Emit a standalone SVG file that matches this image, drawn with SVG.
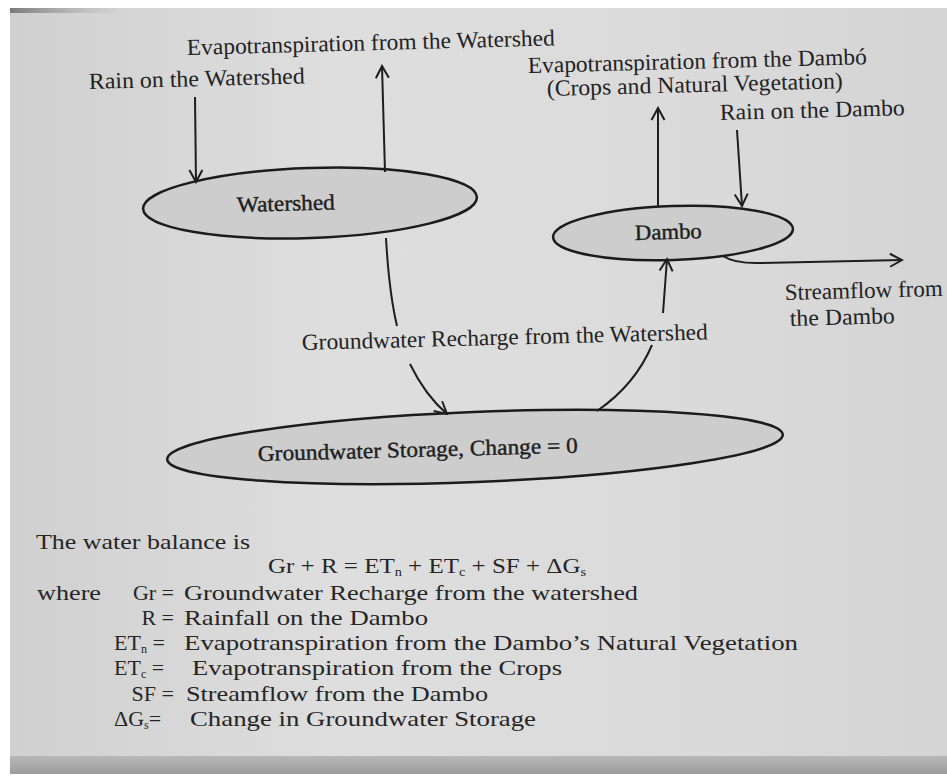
<svg xmlns="http://www.w3.org/2000/svg" width="947" height="782" viewBox="0 0 947 782">
<defs>
  <linearGradient id="paper" x1="0" y1="0" x2="1" y2="0">
    <stop offset="0" stop-color="#d0d0d0"/>
    <stop offset="0.35" stop-color="#dedede"/>
    <stop offset="0.75" stop-color="#dadada"/>
    <stop offset="1" stop-color="#d4d4d4"/>
  </linearGradient>
  <linearGradient id="band" x1="0" y1="0" x2="0" y2="1">
    <stop offset="0" stop-color="#b8b8b8"/>
    <stop offset="1" stop-color="#9c9c9c"/>
  </linearGradient>
  <linearGradient id="streak" x1="0" y1="0" x2="1" y2="0">
    <stop offset="0" stop-color="#7a7a7a"/>
    <stop offset="1" stop-color="#b0b0b0" stop-opacity="0"/>
  </linearGradient>
  <marker id="ah" viewBox="0 0 16 16" markerWidth="16" markerHeight="16" refX="14" refY="8" orient="auto" markerUnits="userSpaceOnUse">
    <path d="M2,1.5 L14,8 L2,14.5" fill="none" stroke="#1e1e1e" stroke-width="2"/>
  </marker>
</defs>
<style>
  .lbl{font-family:"Liberation Serif","Times New Roman",serif;font-size:23px;fill:#232323}
  .nlab{font-family:"Liberation Serif","Times New Roman",serif;font-size:22px;fill:#1e1e1e;stroke:#1e1e1e;stroke-width:0.4}
  .eq{font-family:"Liberation Serif","Times New Roman",serif;font-size:21px;fill:#262626}
  .key{font-family:"Liberation Serif","Times New Roman",serif;font-size:22px;fill:#262626}
  .sub{font-size:12px}
  .node{fill:#cdcdcd;stroke:#1c1c1c;stroke-width:2.5}
  .conn{fill:none;stroke:#1e1e1e;stroke-width:2}
</style>
<rect x="0" y="0" width="947" height="782" fill="#ffffff"/>
<rect x="10" y="8" width="937" height="760" fill="url(#paper)"/>
<rect x="10" y="756" width="937" height="18" fill="url(#band)"/>
<rect x="10" y="8" width="115" height="5" fill="url(#streak)"/>

<g id="watershed">
  <ellipse class="node" cx="310" cy="203" rx="167" ry="35" transform="rotate(-2 310 203)"/>
  <text class="nlab" x="237" y="212" textLength="98" lengthAdjust="spacingAndGlyphs" transform="rotate(-1.5 237 212)">Watershed</text>
</g>
<g id="dambo">
  <ellipse class="node" cx="673" cy="233" rx="120" ry="27" transform="rotate(-2 673 233)"/>
  <text class="nlab" x="635" y="240" textLength="67" lengthAdjust="spacingAndGlyphs" transform="rotate(-1.5 635 240)">Dambo</text>
</g>
<g id="groundwater">
  <ellipse class="node" cx="475" cy="447" rx="308" ry="35" transform="rotate(-2.3 475 447)"/>
  <text class="nlab" x="258" y="461" textLength="320" lengthAdjust="spacingAndGlyphs" transform="rotate(-1.5 258 461)">Groundwater Storage, Change = 0</text>
</g>

<g id="connectors">
  <path class="conn" d="M195,97 L196,182" marker-end="url(#ah)"/>
  <path class="conn" d="M385,172 L382,66" marker-end="url(#ah)"/>
  <path class="conn" d="M386,238 Q389,292 397,326"/>
  <path class="conn" d="M410,364 Q425,395 447,414" marker-end="url(#ah)"/>
  <path class="conn" d="M597,411 Q635,385 652,345"/>
  <path class="conn" d="M663,313 L667,259" marker-end="url(#ah)"/>
  <path class="conn" d="M658,207 L658,108" marker-end="url(#ah)"/>
  <path class="conn" d="M737,130 L742,206" marker-end="url(#ah)"/>
  <path class="conn" d="M723,256 Q735,264 762,263 L902,260" marker-end="url(#ah)"/>
</g>

<g id="labels">
  <text class="lbl" x="187" y="55" textLength="368" lengthAdjust="spacingAndGlyphs" transform="rotate(-1.5 187 55)">Evapotranspiration from the Watershed</text>
  <text class="lbl" x="89" y="89" textLength="216" lengthAdjust="spacingAndGlyphs" transform="rotate(-1.5 89 89)">Rain on the Watershed</text>
  <text class="lbl" x="528" y="73" textLength="339" lengthAdjust="spacingAndGlyphs" transform="rotate(-1.5 528 73)">Evapotranspiration from the Dambó</text>
  <text class="lbl" x="547" y="96" textLength="296" lengthAdjust="spacingAndGlyphs" transform="rotate(-1.5 547 96)">(Crops and Natural Vegetation)</text>
  <text class="lbl" x="720" y="120" textLength="185" lengthAdjust="spacingAndGlyphs" transform="rotate(-1.5 720 120)">Rain on the Dambo</text>
  <text class="lbl" x="302" y="350" textLength="406" lengthAdjust="spacingAndGlyphs" transform="rotate(-1.5 302 350)">Groundwater Recharge from the Watershed</text>
  <text class="lbl" x="785" y="300" textLength="158" lengthAdjust="spacingAndGlyphs" transform="rotate(-1.5 785 300)">Streamflow from</text>
  <text class="lbl" x="790" y="326" textLength="105" lengthAdjust="spacingAndGlyphs" transform="rotate(-1.5 790 326)">the Dambo</text>
</g>

<g id="balance">
  <text class="eq" x="36" y="549" textLength="214" lengthAdjust="spacingAndGlyphs">The water balance is</text>
  <text class="eq" x="268" y="573" textLength="318" lengthAdjust="spacingAndGlyphs">Gr + R = ET<tspan class="sub" dy="3">n</tspan><tspan dy="-3"> + ET</tspan><tspan class="sub" dy="3">c</tspan><tspan dy="-3"> + SF + ΔG</tspan><tspan class="sub" dy="3">s</tspan></text>
  <text class="eq" x="37" y="600" textLength="64" lengthAdjust="spacingAndGlyphs">where</text>
  <text class="key" x="174" y="600" text-anchor="end">Gr =</text>
  <text class="eq" x="184" y="600" textLength="454" lengthAdjust="spacingAndGlyphs">Groundwater Recharge from the watershed</text>
  <text class="key" x="174" y="625" text-anchor="end">R =</text>
  <text class="eq" x="184" y="625" textLength="244" lengthAdjust="spacingAndGlyphs">Rainfall on the Dambo</text>
  <text class="key" x="114" y="650">ET<tspan class="sub" dy="3">n</tspan><tspan dy="-3"> =</tspan></text>
  <text class="eq" x="184" y="650" textLength="614" lengthAdjust="spacingAndGlyphs">Evapotranspiration from the Dambo’s Natural Vegetation</text>
  <text class="key" x="114" y="675">ET<tspan class="sub" dy="3">c</tspan><tspan dy="-3"> =</tspan></text>
  <text class="eq" x="192" y="675" textLength="370" lengthAdjust="spacingAndGlyphs">Evapotranspiration from the Crops</text>
  <text class="key" x="174" y="701" text-anchor="end">SF =</text>
  <text class="eq" x="186" y="701" textLength="302" lengthAdjust="spacingAndGlyphs">Streamflow from the Dambo</text>
  <text class="key" x="114" y="726">ΔG<tspan class="sub" dy="3">s</tspan><tspan dy="-3">=</tspan></text>
  <text class="eq" x="190" y="726" textLength="346" lengthAdjust="spacingAndGlyphs">Change in Groundwater Storage</text>
</g>
</svg>
